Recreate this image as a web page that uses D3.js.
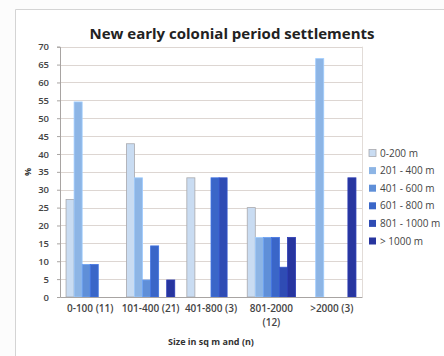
<!DOCTYPE html>
<html>
<head>
<meta charset="utf-8">
<script src="https://cdn.jsdelivr.net/npm/d3@7"></script>
<style>
  html, body { margin: 0; padding: 0; background: #fff; }
  svg { display: block; }
  text { font-family: "Open Sans", "DejaVu Sans", sans-serif; }
</style>
</head>
<body>
<div id="chart"></div>
<script>
// Settlement size classes (x-axis groups) with sample counts
const categories = ["0-100 (11)", "101-400 (21)", "401-800 (3)", "801-2000 (12)", ">2000 (3)"];
// Distance classes (one bar per class within each group)
const seriesNames = ["0-200 m", "201 - 400 m", "401 - 600 m", "601 - 800 m", "801 - 1000 m", "> 1000 m"];
// Percentage of settlements per distance class, one array per size group
const pct0_100    = [27.27, 54.55, 9.09, 9.09, 0, 0];
const pct101_400  = [42.86, 33.33, 4.76, 14.29, 0, 4.76];
const pct401_800  = [33.33, 0, 0, 33.33, 33.33, 0];
const pct801_2000 = [25.0, 16.67, 16.67, 16.67, 8.33, 16.67];
const pct2000plus = [0, 66.67, 0, 0, 0, 33.33];
const yTicks = [0, 5, 10, 15, 20, 25, 30, 35, 40, 45, 50, 55, 60, 65, 70];
const seriesColors = ["#c9dcf2", "#8db5e5", "#5f8fd8", "#3a66c8", "#2f4cb4", "#27359f"];

const groups = [pct0_100, pct101_400, pct401_800, pct801_2000, pct2000plus];

const W = 444, H = 356;
const plot = { left: 60, right: 362, top: 46.7, bottom: 297 };

const svg = d3.select("#chart").append("svg")
  .attr("width", W).attr("height", H);

// chart frame
svg.append("rect").attr("x", 0).attr("y", 0).attr("width", W).attr("height", H).attr("fill", "#fcfcfc");
svg.append("path")
  .attr("d", `M15.5,${H} V9.5 H${W}`)
  .attr("fill", "none").attr("stroke", "#d4d4d4").attr("stroke-width", 1);
svg.append("rect").attr("x", 16).attr("y", 10).attr("width", W - 16).attr("height", H - 10).attr("fill", "#ffffff");

const x0 = d3.scaleBand().domain(categories).range([plot.left, plot.right]).paddingInner(0.2).paddingOuter(0.1);
const x1 = d3.scaleBand().domain(seriesNames).range([0, x0.bandwidth()]);
const y = d3.scaleLinear().domain([0, 70]).range([plot.bottom, plot.top]);

// horizontal gridlines
svg.append("g").selectAll("line").data(yTicks.filter(t => t > 0)).join("line")
  .attr("x1", plot.left).attr("x2", plot.right)
  .attr("y1", d => Math.round(y(d)) + 0.5).attr("y2", d => Math.round(y(d)) + 0.5)
  .attr("stroke", "#ddd6d2").attr("stroke-width", 1.2);
// right plot border
svg.append("line").attr("x1", plot.right + 0.5).attr("x2", plot.right + 0.5)
  .attr("y1", plot.top).attr("y2", plot.bottom).attr("stroke", "#e2dcd8");

// bars
const gGroups = svg.append("g").selectAll("g").data(groups).join("g")
  .attr("transform", (d, i) => `translate(${x0(categories[i])},0)`);
gGroups.selectAll("rect").data(d => d.map((v, j) => ({ v, j }))).join("rect")
  .filter(d => d.v > 0)
  .attr("x", d => x1(seriesNames[d.j]))
  .attr("y", d => y(d.v))
  .attr("width", x1.bandwidth())
  .attr("height", d => y(0) - y(d.v))
  .attr("fill", d => seriesColors[d.j])
  .attr("stroke", d => d.j === 0 ? "#a9a9ad" : d3.color(seriesColors[d.j]).brighter(0.35))
  .attr("stroke-width", 0.8);

// y axis
const yAxis = d3.axisLeft(y).tickValues(yTicks).tickSize(3).tickPadding(8);
const gy = svg.append("g").attr("transform", `translate(${plot.left},0)`).call(yAxis);
gy.select(".domain").attr("stroke", "#a8a4a2");
gy.selectAll(".tick line").attr("stroke", "#a8a4a2");
gy.selectAll("text").attr("font-size", 9.5).attr("font-weight", 600).attr("fill", "#444")
  .attr("font-family", "'Open Sans', sans-serif");

// x axis (the long label wraps onto a second line)
const xAxis = d3.axisBottom(x0).tickSize(0).tickPadding(8);
const gx = svg.append("g").attr("transform", `translate(0,${plot.bottom})`).call(xAxis);
gx.select(".domain").attr("stroke", "#a8a4a2");
gx.selectAll("text").attr("font-size", 10).attr("font-weight", 600).attr("fill", "#444")
  .attr("font-family", "'Open Sans', sans-serif");
gx.selectAll(".tick").filter(d => d === "801-2000 (12)").each(function() {
  const tick = d3.select(this);
  tick.select("text").text("801-2000");
  tick.append("text")
    .attr("y", 22).attr("dy", "0.71em")
    .attr("font-size", 10).attr("font-weight", 600).attr("fill", "#444")
    .attr("font-family", "'Open Sans', sans-serif")
    .text("(12)");
});

// titles
svg.append("text").attr("x", 232).attr("y", 39).attr("text-anchor", "middle")
  .attr("font-size", 15).attr("font-weight", 700).attr("fill", "#222")
  .text("New early colonial period settlements");
svg.append("text").attr("x", (plot.left + plot.right) / 2).attr("y", 345).attr("text-anchor", "middle")
  .attr("font-size", 9).attr("font-weight", 700).attr("fill", "#333")
  .text("Size in sq m and (n)");
svg.append("text").attr("transform", `translate(31,${(plot.top + plot.bottom) / 2}) rotate(-90)`)
  .attr("text-anchor", "middle").attr("font-size", 9).attr("font-weight", 700).attr("fill", "#333")
  .text("%");

// legend
const legend = svg.append("g").attr("transform", "translate(369,153)");
const rows = legend.selectAll("g").data(seriesNames).join("g")
  .attr("transform", (d, i) => `translate(0,${i * 17.6})`);
rows.append("rect").attr("x", 0).attr("y", -3.5).attr("width", 7).attr("height", 7)
  .attr("fill", (d, i) => seriesColors[i])
  .attr("stroke", (d, i) => i === 0 ? "#a9a9ad" : "none").attr("stroke-width", 0.8);
rows.append("text").attr("x", 11).attr("y", 0).attr("dy", "0.35em")
  .attr("font-size", 10).attr("fill", "#444").text(d => d);
</script>
</body>
</html>
